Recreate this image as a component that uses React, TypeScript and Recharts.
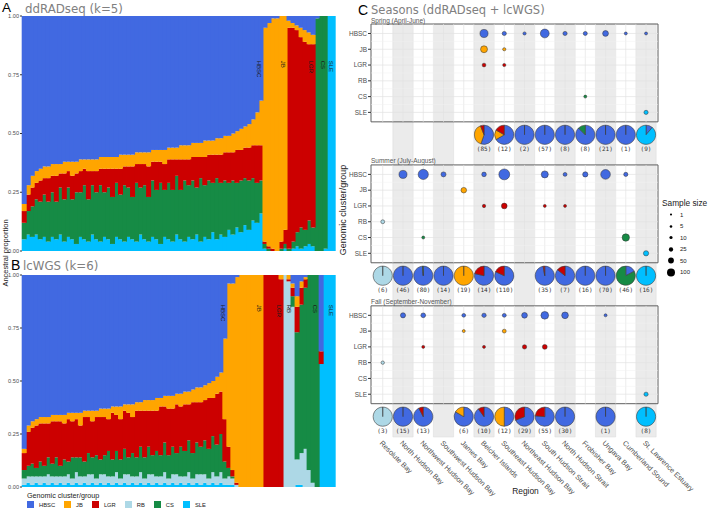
import React from 'react';
import {
  BarChart,
  Bar,
  XAxis,
  YAxis,
  ReferenceDot,
  Legend,
  ScatterChart,
  Scatter,
  ZAxis,
  ReferenceArea,
  ReferenceLine,
  Sector,
} from 'recharts';

const FONT = '"Liberation Sans", Arial, sans-serif';
const TITLE_FONT = '"DejaVu Sans", sans-serif';
const MONO = '"DejaVu Sans Mono", monospace';

const clusters = ['HBSC', 'JB', 'LGR', 'RB', 'CS', 'SLE'];
const clusterColors = ['#4169E1', '#FFA500', '#CC0000', '#ADD8E6', '#168B45', '#00BFFF'];
const colorOf = (c: string) => clusterColors[clusters.indexOf(c)];

// ---- panel A: ddRADseq (k=5), ancestry in % per individual (plot order)
const aGroupNames = ['HBSC', 'JB', 'LGR', 'CS', 'SLE'];
const aGroupSizes = [60, 6, 7, 3, 2];
const aSLE = [
  5, 7, 6, 7, 5, 6, 4, 6, 5, 7, 4, 6, 5, 3, 6, 5, 4, 7, 5, 4, 6, 5, 3, 6, 5, 4, 6, 5, 4, 7,
  5, 4, 6, 5, 3, 6, 5, 4, 7, 5, 4, 6, 5, 7, 4, 6, 5, 8, 5, 7, 6, 9, 7, 10, 8, 11, 9, 13, 12, 16,
  1, 0, 0, 0, 0, 1, 0, 1, 2, 1, 2, 3, 2, 0, 0, 1, 100, 100,
];
const aCS = [
  7, 10, 13, 15, 16, 18, 17, 19, 16, 20, 18, 21, 17, 22, 19, 23, 18, 21, 20, 24, 19, 22, 20, 23, 19, 24, 21, 18, 25, 20,
  23, 19, 24, 21, 26, 20, 24, 22, 25, 21, 26, 22, 25, 20, 27, 22, 25, 21, 26, 22, 24, 20, 23, 19, 22, 20, 21, 18, 17, 14,
  2, 1, 0, 0, 1, 2, 1, 3, 6, 9, 7, 10, 8, 99, 100, 99, 0, 0,
];
const aLGR = [
  5, 7, 8, 7, 9, 7, 10, 7, 11, 6, 11, 7, 10, 8, 9, 7, 12, 6, 9, 7, 10, 8, 12, 6, 11, 8, 9, 13, 8, 10,
  9, 13, 8, 12, 9, 11, 10, 13, 7, 13, 9, 11, 10, 13, 9, 12, 11, 12, 10, 12, 12, 13, 12, 14, 13, 13, 14, 14, 16, 15,
  1, 1, 1, 0, 3, 6, 94, 91, 86, 81, 80, 75, 78, 0, 0, 0, 0, 0,
];
const aJB = [
  3, 4, 5, 5, 5, 5, 5, 5, 5, 4, 5, 4, 6, 5, 5, 4, 5, 5, 5, 5, 5, 5, 5, 5, 6, 5, 5, 5, 5, 5,
  5, 6, 5, 5, 5, 6, 5, 5, 5, 6, 6, 6, 6, 6, 6, 7, 6, 6, 7, 7, 7, 7, 8, 8, 9, 9, 10, 11, 14, 19,
  91, 95, 98, 99, 96, 91, 3, 2, 2, 4, 5, 5, 4, 0, 0, 0, 0, 0,
];
const aHBSC = [
  80, 72, 68, 66, 65, 64, 64, 63, 63, 63, 62, 62, 62, 62, 61, 61, 61, 61, 61, 60, 60, 60, 60, 60, 59, 59, 59, 59, 58, 58,
  58, 58, 57, 57, 57, 57, 56, 56, 56, 55, 55, 55, 54, 54, 54, 53, 53, 53, 52, 52, 51, 51, 50, 49, 48, 47, 46, 44, 41, 36,
  5, 3, 1, 1, 0, 0, 2, 3, 4, 5, 6, 7, 8, 1, 0, 0, 0, 0,
];

// ---- panel B: lcWGS (k=6)
const bGroupNames = ['HBSC', 'JB', 'LGR', 'RB', 'CS', 'SLE'];
const bGroupSizes = [52, 8, 5, 3, 6, 4];
const bSLE = [
  1, 2, 1, 2, 1, 2, 1, 2, 1, 2, 1, 2, 1, 2, 1, 2, 1, 2, 1, 2, 1, 2, 1, 2, 1, 2,
  1, 2, 1, 2, 1, 2, 1, 2, 1, 2, 1, 2, 1, 2, 1, 2, 1, 2, 1, 2, 1, 2, 1, 2, 1, 1,
  1, 0, 0, 0, 0, 0, 0, 0, 0, 0, 0, 0, 0, 0, 0, 0, 1, 1, 0, 0, 0, 0, 58, 100, 100, 100,
];
const bRB = [
  3, 3, 4, 3, 4, 3, 5, 3, 4, 3, 4, 4, 3, 5, 4, 3, 5, 4, 3, 4, 5, 3, 4, 5, 3, 4,
  5, 3, 4, 5, 3, 4, 5, 3, 4, 5, 3, 4, 5, 3, 4, 5, 3, 4, 5, 4, 3, 5, 4, 5, 3, 4,
  3, 1, 0, 0, 0, 0, 0, 0, 0, 0, 0, 0, 0, 100, 97, 85, 12, 15, 18, 8, 2, 0, 0, 0, 0, 0,
];
const bCS = [
  4, 5, 6, 4, 7, 5, 8, 6, 9, 5, 8, 6, 10, 7, 9, 7, 10, 8, 11, 7, 9, 12, 8, 10, 9, 12,
  8, 11, 9, 12, 10, 13, 9, 12, 10, 14, 11, 13, 10, 14, 12, 15, 12, 15, 13, 16, 14, 17, 15, 18, 8, 4,
  1, 0, 0, 0, 0, 0, 0, 0, 0, 0, 0, 0, 0, 0, 0, 5, 60, 70, 76, 92, 98, 100, 0, 0, 0, 0,
];
const bLGR = [
  8, 16, 17, 20, 18, 20, 16, 20, 17, 21, 17, 20, 17, 18, 15, 21, 17, 17, 18, 20, 18, 15, 22, 17, 19, 18,
  21, 17, 22, 17, 22, 17, 21, 19, 23, 17, 22, 18, 23, 19, 22, 17, 24, 19, 21, 19, 24, 18, 24, 20, 20, 10,
  3, 1, 0, 0, 0, 0, 0, 0, 100, 100, 100, 100, 98, 0, 1, 4, 12, 8, 4, 0, 0, 0, 6, 0, 0, 0,
];
const bJB = [
  2, 3, 3, 3, 3, 3, 3, 3, 3, 3, 4, 3, 4, 3, 6, 3, 3, 5, 3, 4, 4, 5, 3, 4, 6, 3,
  4, 6, 4, 4, 5, 5, 5, 6, 4, 5, 6, 6, 5, 6, 6, 6, 6, 7, 7, 7, 7, 8, 8, 9, 38, 77,
  88, 97, 100, 100, 100, 100, 100, 100, 0, 0, 0, 0, 2, 0, 2, 2, 5, 3, 1, 0, 0, 0, 0, 0, 0, 0,
];
const bHBSC = [
  82, 71, 69, 68, 67, 67, 67, 66, 66, 66, 66, 65, 65, 65, 65, 64, 64, 64, 64, 63, 63, 63, 62, 62, 62, 61,
  61, 61, 60, 60, 59, 59, 59, 58, 58, 57, 57, 57, 56, 56, 55, 55, 54, 53, 53, 52, 51, 50, 48, 46, 30, 4,
  4, 1, 0, 0, 0, 0, 0, 0, 0, 0, 0, 0, 0, 0, 0, 4, 10, 3, 1, 0, 0, 0, 36, 0, 0, 0,
];

// ---- panel C: sample counts per cluster (rows HBSC..SLE) and region (columns)
const regions = [
  'Resolute Bay', 'North Hudson Bay', 'Northwest Hudson Bay', 'Southwest Hudson Bay', 'James Bay',
  'Belcher Islands', 'Southeast Hudson Bay', 'Northeast Hudson Bay', 'South Hudson Strait',
  'North Hudson Strait', 'Frobisher Bay', 'Ungava Bay', 'Cumberland Sound', 'St. Lawrence Estuary',
];
const seasonNames = ['Spring (April-June)', 'Summer (July-August)', 'Fall (September-November)'];
const springCounts = [
  [0, 0, 0, 0, 0, 47, 8, 2, 57, 8, 7, 21, 1, 1],
  [0, 0, 0, 0, 0, 33, 2, 0, 0, 0, 0, 0, 0, 0],
  [0, 0, 0, 0, 0, 5, 2, 0, 0, 0, 0, 0, 0, 0],
  [0, 0, 0, 0, 0, 0, 0, 0, 0, 0, 0, 0, 0, 0],
  [0, 0, 0, 0, 0, 0, 0, 0, 0, 0, 1, 0, 0, 0],
  [0, 0, 0, 0, 0, 0, 0, 0, 0, 0, 0, 0, 0, 8],
];
const summerCounts = [
  [0, 46, 79, 14, 0, 11, 90, 0, 34, 6, 16, 70, 8, 0],
  [0, 0, 0, 0, 19, 0, 0, 0, 0, 0, 0, 0, 0, 0],
  [0, 0, 0, 0, 0, 3, 20, 0, 1, 1, 0, 0, 0, 0],
  [6, 0, 0, 0, 0, 0, 0, 0, 0, 0, 0, 0, 0, 0],
  [0, 0, 1, 0, 0, 0, 0, 0, 0, 0, 0, 0, 38, 0],
  [0, 0, 0, 0, 0, 0, 0, 0, 0, 0, 0, 0, 0, 16],
];
const fallCounts = [
  [0, 15, 12, 0, 5, 9, 6, 20, 42, 30, 0, 1, 0, 0],
  [0, 0, 0, 0, 1, 0, 6, 0, 0, 0, 0, 0, 0, 0],
  [0, 0, 1, 0, 0, 1, 0, 9, 13, 0, 0, 0, 0, 0],
  [3, 0, 0, 0, 0, 0, 0, 0, 0, 0, 0, 0, 0, 0],
  [0, 0, 0, 0, 0, 0, 0, 0, 0, 0, 0, 0, 0, 0],
  [0, 0, 0, 0, 0, 0, 0, 0, 0, 0, 0, 0, 0, 8],
];
const seasonCounts = [springCounts, summerCounts, fallCounts];
const sizeBreaks = [1, 5, 10, 25, 50, 100];

// ---- layout of panel C (row units)
const SEASON_STEP = 8.93;
const PIE_ROW = 6.42;
const BOX_TOP = -0.6;
const BOX_BOTTOM = 5.6;
const Y_MIN = -0.6;
const Y_MAX = 25.57;
const X_MIN = 0.42;
const X_MAX = 14.59;
const PIE_R = 9.6;

const rowsA = aHBSC.map((h, i) => ({ id: i, HBSC: h, JB: aJB[i], LGR: aLGR[i], CS: aCS[i], SLE: aSLE[i] }));
const rowsB = bHBSC.map((h, i) => ({
  id: i, HBSC: h, JB: bJB[i], LGR: bLGR[i], RB: bRB[i], CS: bCS[i], SLE: bSLE[i],
}));

const lastIds = (sizes: number[]) => {
  let acc = 0;
  return sizes.map((s) => (acc += s) - 1);
};

const yTicks = seasonNames.flatMap((_, s) => clusters.map((__, k) => s * SEASON_STEP + k));
const yTickLabels = seasonNames.flatMap(() => clusters);

const dotData = clusters.map((_, k) =>
  seasonCounts.flatMap((m, s) =>
    m[k].map((n, r) => ({ x: r + 1, y: s * SEASON_STEP + k, n })).filter((p) => p.n > 0),
  ),
);

const pieData = seasonCounts.flatMap((m, s) =>
  regions
    .map((_, r) => {
      const counts = m.map((row) => row[r]);
      const total = counts.reduce((a, b) => a + b, 0);
      return { x: r + 1, y: s * SEASON_STEP + PIE_ROW, counts, total };
    })
    .filter((p) => p.total > 0),
);

const gridX = regions.flatMap((_, i) => (i < regions.length - 1 ? [i + 1, i + 1.5] : [i + 1]));
const gridY = [0, 0.5, 1, 1.5, 2, 2.5, 3, 3.5, 4, 4.5, 5];

// bar segment drawn slightly wider so neighbouring individuals touch
const AncestryRect = (color: string) => (p: any) =>
  p.height > 0 ? <rect x={p.x - 0.3} y={p.y} width={p.width + 1} height={p.height} fill={color} /> : null;

function PieMark(props: any) {
  const { cx, cy, payload } = props;
  let start = 90;
  const parts: React.ReactNode[] = [];
  payload.counts.forEach((n: number, k: number) => {
    if (!n) return;
    const sweep = (360 * n) / payload.total;
    parts.push(
      <Sector
        key={k}
        cx={cx}
        cy={cy}
        innerRadius={0}
        outerRadius={PIE_R}
        startAngle={start}
        endAngle={start - sweep}
        fill={clusterColors[k]}
        stroke="#3d3d3d"
        strokeWidth={0.6}
      />,
    );
    start -= sweep;
  });
  return (
    <g>
      {parts}
      <text x={cx} y={cy + 16} textAnchor="middle" fontSize={6} fontFamily={MONO} fill="#333">
        ({payload.total})
      </text>
    </g>
  );
}

function GroupLabel(props: any, text: string, dx: number) {
  const x = props.cx + dx;
  const y = props.cy;
  return (
    <text
      x={x}
      y={y}
      transform={`rotate(90 ${x} ${y})`}
      fontSize={6}
      fontFamily={FONT}
      fill="#1a1a1a"
      dominantBaseline="central"
    >
      {text}
    </text>
  );
}

function ClusterLegend() {
  return (
    <div style={{ paddingLeft: 27, height: 22, fontFamily: FONT, color: '#222' }}>
      <div style={{ fontSize: 7.2, lineHeight: '9px', marginTop: 4 }}>Genomic cluster/group</div>
      <div style={{ display: 'flex', alignItems: 'center', marginTop: 1 }}>
        {clusters.map((c, k) => (
          <div key={c} style={{ display: 'flex', alignItems: 'center', marginRight: 9 }}>
            <span style={{ width: 7, height: 7, background: clusterColors[k], display: 'inline-block' }} />
            <span style={{ fontSize: 5.8, marginLeft: 5 }}>{c}</span>
          </div>
        ))}
      </div>
    </div>
  );
}

function SizeLegend() {
  return (
    <div style={{ fontFamily: FONT, color: '#222', whiteSpace: 'nowrap' }}>
      <div style={{ fontSize: 8.3, lineHeight: '10px', marginBottom: 1 }}>Sample size</div>
      {sizeBreaks.map((n) => {
        const r = Math.sqrt((3 + 0.47 * n) / Math.PI);
        return (
          <div key={n} style={{ display: 'flex', alignItems: 'center', height: 11.5 }}>
            <svg width={14} height={11}>
              <circle cx={9} cy={5.5} r={r} fill="#000" />
            </svg>
            <span style={{ fontSize: 6, marginLeft: 4 }}>{n}</span>
          </div>
        );
      })}
    </div>
  );
}

const yTickStyle = { fontSize: 5.6, fill: '#4d4d4d', fontFamily: FONT };

export default function App() {
  const aLast = lastIds(aGroupSizes);
  const bLast = lastIds(bGroupSizes);
  return (
    <div style={{ position: 'relative', width: 709, height: 514, background: '#fff', overflow: 'hidden', fontFamily: FONT }}>
      <style>{'body{margin:0}'}</style>

      {/* A */}
      <div style={{ position: 'absolute', left: 0, top: 0 }}>
        <BarChart width={340} height={256} data={rowsA} margin={{ top: 16, right: 5, bottom: 5, left: 0 }} barCategoryGap="0%" barGap={0}>
          <XAxis dataKey="id" hide />
          <YAxis
            domain={[0, 100]}
            ticks={[0, 25, 50, 75, 100]}
            tickFormatter={(v: number) => (v / 100).toFixed(2)}
            width={22}
            axisLine={false}
            tickSize={2}
            tickMargin={1}
            tickLine={{ stroke: '#333' }}
            tick={yTickStyle}
            allowDataOverflow
          />
          {['SLE', 'CS', 'LGR', 'JB', 'HBSC'].map((c) => (
            <Bar key={c} dataKey={c} stackId="s" fill={colorOf(c)} shape={AncestryRect(colorOf(c))} isAnimationActive={false} />
          ))}
          {aGroupNames.map((g, i) => (
            <ReferenceDot key={g} x={aLast[i]} y={81} r={0} shape={(p: any) => GroupLabel(p, g, -2)} />
          ))}
        </BarChart>
      </div>

      {/* B */}
      <div style={{ position: 'absolute', left: 0, top: 255 }}>
        <BarChart width={340} height={259} data={rowsB} margin={{ top: 20, right: 5, bottom: 5, left: 0 }} barCategoryGap="0%" barGap={0}>
          <XAxis dataKey="id" hide />
          <YAxis
            domain={[0, 100]}
            ticks={[0, 25, 50, 75, 100]}
            tickFormatter={(v: number) => (v / 100).toFixed(2)}
            width={22}
            axisLine={false}
            tickSize={2}
            tickMargin={1}
            tickLine={{ stroke: '#333' }}
            tick={yTickStyle}
            allowDataOverflow
          />
          {['SLE', 'RB', 'CS', 'LGR', 'JB', 'HBSC'].map((c) => (
            <Bar key={c} dataKey={c} stackId="s" fill={colorOf(c)} shape={AncestryRect(colorOf(c))} isAnimationActive={false} />
          ))}
          {bGroupNames.map((g, i) => (
            <ReferenceDot key={g} x={bLast[i]} y={86} r={0} shape={(p: any) => GroupLabel(p, g, g === 'HBSC' ? -6 : g === 'RB' ? -4 : -2)} />
          ))}
          <Legend layout="horizontal" verticalAlign="bottom" align="left" height={22} content={() => <ClusterLegend />} />
        </BarChart>
      </div>

      {/* C */}
      <div style={{ position: 'absolute', left: 340, top: 0 }}>
        <ScatterChart width={369} height={514} margin={{ top: 24, right: 51, bottom: 0, left: 1 }}>
          <XAxis
            type="number"
            dataKey="x"
            domain={[X_MIN, X_MAX]}
            ticks={regions.map((_, i) => i + 1)}
            tickFormatter={(v: number) => regions[v - 1]}
            interval={0}
            angle={45}
            textAnchor="start"
            axisLine={false}
            tickLine={false}
            tickSize={3}
            tickMargin={0}
            height={77}
            tick={{ fontSize: 7.2, fill: '#4d4d4d', fontFamily: FONT }}
            allowDataOverflow
            label={{ value: 'Region', position: 'insideBottom', offset: 20, dx: 11, fontSize: 8.4, fill: '#222', fontFamily: FONT }}
          />
          <YAxis
            type="number"
            dataKey="y"
            domain={[Y_MIN, Y_MAX]}
            reversed
            ticks={yTicks}
            tickFormatter={(_: number, i: number) => yTickLabels[i]}
            interval={0}
            axisLine={false}
            tickSize={3}
            tickMargin={1}
            tickLine={{ stroke: '#333' }}
            width={30}
            tick={{ fontSize: 6.5, fill: '#4d4d4d', fontFamily: FONT }}
            allowDataOverflow
          />
          <ZAxis dataKey="n" range={[7, 112]} domain={[1, 110]} />

          {regions.map((r, i) =>
            i % 2 === 1 ? (
              <ReferenceArea key={r} x1={i + 0.5} x2={i + 1.5} fill="#ebebeb" fillOpacity={1} stroke="#dadada" strokeWidth={0.5} />
            ) : null,
          )}

          {seasonNames.map((s, si) => {
            const o = si * SEASON_STEP;
            return [
              ...gridX.map((gx) => (
                <ReferenceLine
                  key={`${s}-vx${gx}`}
                  segment={[{ x: gx, y: o + BOX_TOP }, { x: gx, y: o + BOX_BOTTOM }]}
                  stroke={gx % 1 ? '#f0f0f0' : '#e2e2e2'}
                  strokeWidth={gx % 1 ? 0.5 : 0.7}
                />
              )),
              ...gridY.map((gy) => (
                <ReferenceLine
                  key={`${s}-hy${gy}`}
                  segment={[{ x: X_MIN, y: o + gy }, { x: X_MAX, y: o + gy }]}
                  stroke={gy % 1 ? '#f0f0f0' : '#e2e2e2'}
                  strokeWidth={gy % 1 ? 0.5 : 0.7}
                />
              )),
              <ReferenceArea
                key={`${s}-box`}
                x1={X_MIN}
                x2={X_MAX}
                y1={o + BOX_TOP}
                y2={o + BOX_BOTTOM}
                fill="none"
                stroke="#5f5f5f"
                strokeWidth={1}
              />,
            ];
          })}

          {clusters.map((c, k) => (
            <Scatter
              key={c}
              data={dotData[k]}
              fill={clusterColors[k]}
              stroke="#333"
              strokeWidth={0.5}
              shape="circle"
              isAnimationActive={false}
            />
          ))}
          <Scatter data={pieData} shape={(p: any) => <PieMark {...p} />} isAnimationActive={false} />

          <Legend
            layout="vertical"
            align="center"
            verticalAlign="middle"
            wrapperStyle={{ left: 322, top: 198, width: 47 }}
            content={() => <SizeLegend />}
          />
        </ScatterChart>
      </div>

      {/* titles and shared axis titles */}
      <svg width={709} height={514} style={{ position: 'absolute', left: 0, top: 0, pointerEvents: 'none' }}>
        <text x={2} y={11.5} fontSize={13.5} fontFamily={FONT} fill="#000">A</text>
        <text x={25} y={12.5} fontSize={11.8} fontFamily={TITLE_FONT} fill="#808080">ddRADseq (k=5)</text>
        <text x={11} y={269.5} fontSize={14} fontFamily={FONT} fill="#000">B</text>
        <text x={23} y={269.5} fontSize={11.8} fontFamily={TITLE_FONT} fill="#808080">lcWGS (k=6)</text>
        <text x={358} y={15} fontSize={14} fontFamily={FONT} fill="#000">C</text>
        <text x={371} y={14} fontSize={11.5} fontFamily={TITLE_FONT} fill="#808080">Seasons (ddRADseq + lcWGS)</text>
        <text transform="translate(7.5,253) rotate(-90)" textAnchor="middle" fontSize={7.5} fontFamily={FONT} fill="#222">
          Ancestral proportion
        </text>
        <text transform="translate(346,210) rotate(-90)" textAnchor="middle" fontSize={9} fontFamily={FONT} fill="#222">
          Genomic cluster/group
        </text>
        {seasonNames.map((s, si) => (
          <text key={s} x={371} y={[22.5, 162.5, 303.5][si]} fontSize={6.5} fontFamily={FONT} fill="#555">
            {s}
          </text>
        ))}
      </svg>
    </div>
  );
}
